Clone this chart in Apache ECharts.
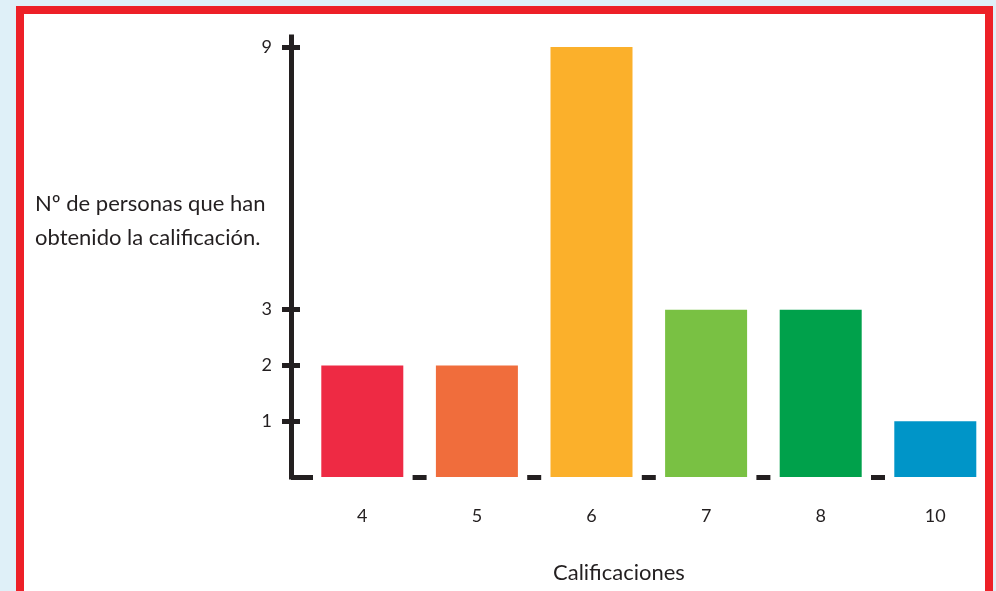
<!DOCTYPE html>
<html>
<head>
<meta charset="utf-8">
<script src="https://cdn.jsdelivr.net/npm/echarts@6/dist/echarts.min.js"></script>
<style>
  html, body { margin: 0; padding: 0; background: #dff0f8; }
  .frame {
    position: absolute; left: 16px; top: 6px; width: 977px; height: 620px;
    box-sizing: border-box;
  }
  #paper { background: #ffffff; }
  #border { border: 8px solid #ed2027; z-index: 2; pointer-events: none; }
  #chart { position: absolute; left: 0; top: 0; width: 996px; height: 591px; z-index: 1; }
</style>
</head>
<body>
<div id="paper" class="frame"></div>
<div id="chart"></div>
<div id="border" class="frame"></div>
<script>
// Grades and how many people obtained each one
const categories = ['4', '5', '6', '7', '8', '10'];
const counts = [2, 2, 9, 3, 3, 1];
const barColors = ['#ee2a44', '#f06d3c', '#fbb02b', '#79c143', '#00a14b', '#0095c8'];
const yTickValues = [1, 2, 3, 9];
const yTitle = 'Nº de personas que han\nobtenido la calificación.';
const xTitle = 'Calificaciones';

const FONT = 'Lato';
const INK = '#231f20';

// The value axis jumps from just above 3 to just below 9
const yScale = {
  type: 'value',
  position: 'left',
  min: 0,
  max: 9.18,
  breaks: [{ start: 3.5, end: 8.5, gap: '47%' }],
  breakArea: { show: false },
  splitLine: { show: false },
  offset: 14
};

const chart = echarts.init(document.getElementById('chart'), null, { renderer: 'canvas' });

chart.setOption({
  backgroundColor: 'transparent',
  animation: false,
  title: [
    {
      text: yTitle, left: 35, top: 187, padding: 0,
      textStyle: { fontFamily: FONT, fontSize: 22, fontWeight: 'normal', color: INK, lineHeight: 34 }
    },
    {
      text: xTitle, left: 553, top: 562, padding: 0,
      textStyle: { fontFamily: FONT, fontSize: 22, fontWeight: 'normal', color: INK }
    }
  ],
  grid: { left: 305, right: 3.4, top: 37, bottom: 114, containLabel: false },
  xAxis: {
    type: 'category',
    data: categories,
    boundaryGap: true,
    axisLine: {
      lineStyle: { color: INK, width: 5, type: [14, 100.6], dashOffset: 7, cap: 'butt' }
    },
    axisTick: { show: false },
    axisLabel: { margin: 30, fontFamily: FONT, fontSize: 18, color: INK }
  },
  yAxis: [
    // scale, labels and outward half of the ticks
    Object.assign({}, yScale, {
      axisLine: { show: false },
      axisTick: { show: true, inside: false, length: 9, customValues: yTickValues,
                  lineStyle: { color: INK, width: 5 } },
      axisLabel: { show: true, margin: 19, customValues: yTickValues,
                   fontFamily: FONT, fontSize: 18, color: INK }
    }),
    // inward half of the ticks
    Object.assign({}, yScale, {
      axisLine: { show: false },
      axisTick: { show: true, inside: true, length: 9, customValues: yTickValues,
                  lineStyle: { color: INK, width: 5 } },
      axisLabel: { show: false }
    }),
    // foot of the axis turning right along the baseline
    Object.assign({}, yScale, {
      axisLine: { show: false },
      axisTick: { show: true, inside: true, length: 22, customValues: [0],
                  lineStyle: { color: INK, width: 5 } },
      axisLabel: { show: false }
    }),
    // unbroken vertical axis line
    {
      type: 'value', position: 'left', offset: 14, min: 0, max: 1,
      axisLine: { show: true, lineStyle: { color: INK, width: 5, cap: 'square' } },
      axisTick: { show: false }, axisLabel: { show: false }, splitLine: { show: false }
    }
  ],
  series: [{
    type: 'bar',
    yAxisIndex: 0,
    barWidth: 82,
    data: counts.map((v, i) => ({ value: v, itemStyle: { color: barColors[i] } })),
    z: 3
  }]
});
</script>
</body>
</html>
